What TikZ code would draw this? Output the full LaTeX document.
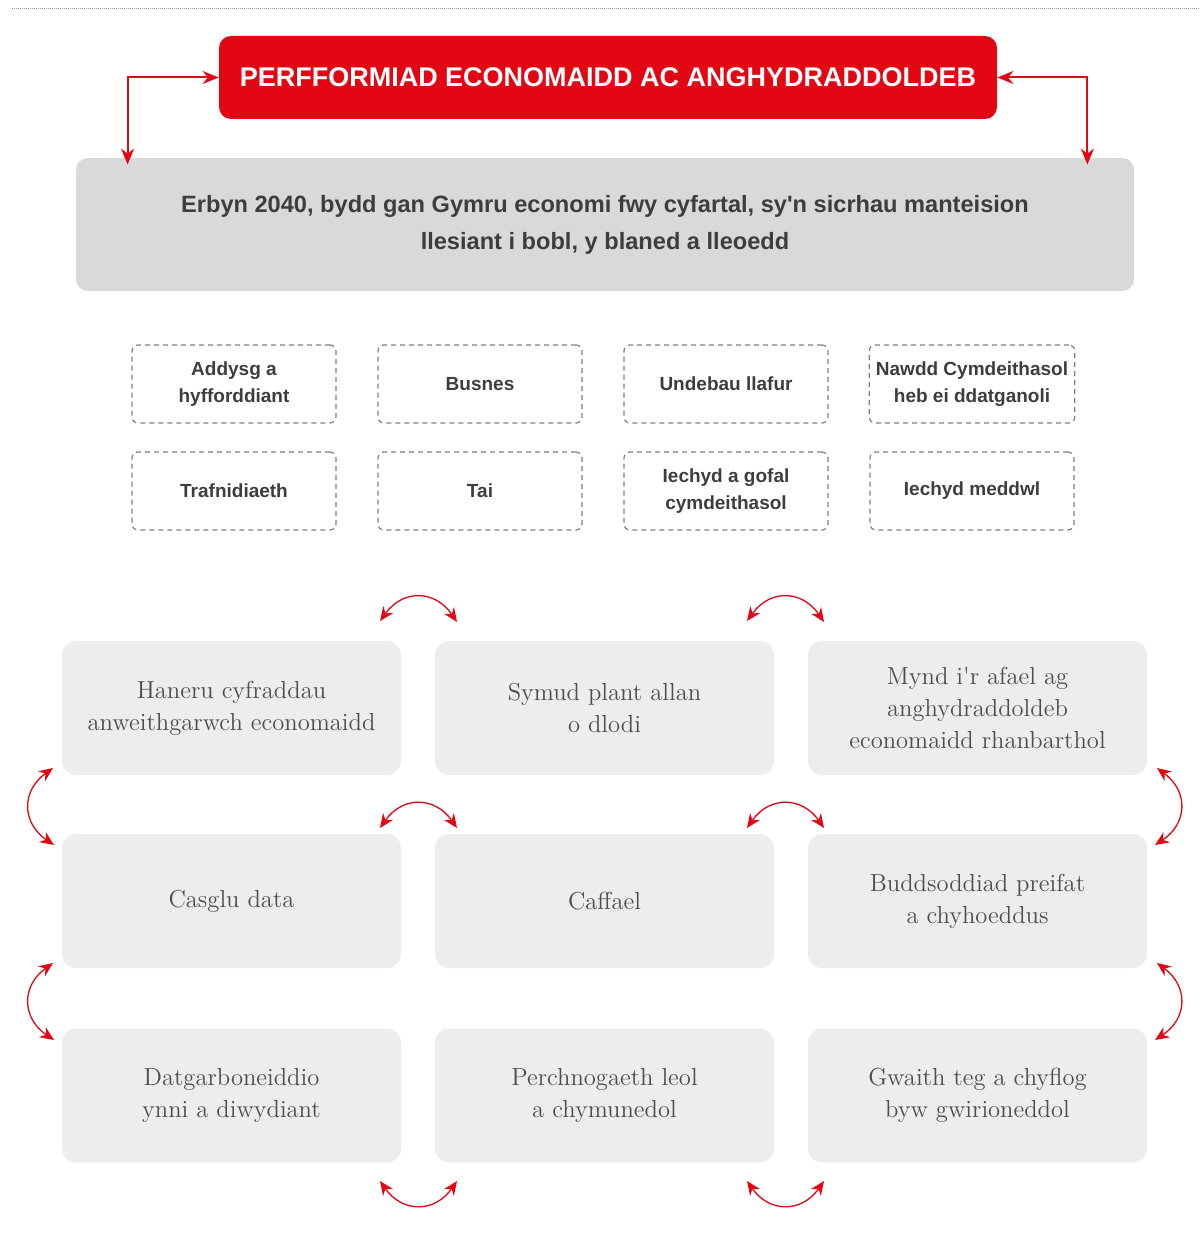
\documentclass[tikz,border=0pt]{standalone}
\usepackage{fontspec}
\setsansfont{Liberation Sans}
\usetikzlibrary{arrows.meta,calc}

\definecolor{wgred}{HTML}{E30613}
\definecolor{wggrey}{HTML}{D9D9D9}
\definecolor{wglight}{HTML}{EDEDED}
\definecolor{wgtext}{HTML}{3D3D3D}
\definecolor{wgserif}{HTML}{4D4D4D}

\begin{document}
\begin{tikzpicture}[x=0.5pt,y=-0.5pt,
titlebox/.style={fill=wgred, rounded corners=6pt, minimum width=389pt, minimum height=41.5pt,
  text=white, font=\sffamily\bfseries\fontsize{13.5}{16}\selectfont},
visionbox/.style={fill=wggrey, rounded corners=6pt, minimum width=529pt, minimum height=66.5pt,
  text=wgtext, align=center, font=\sffamily\bfseries\fontsize{11.8}{18.5}\selectfont},
areabox/.style={draw=gray, dash pattern=on 2.5pt off 2pt, line width=0.6pt, rounded corners=3pt,
  minimum width=102pt, minimum height=39pt, text=wgtext, align=center,
  font=\sffamily\bfseries\fontsize{9.5}{13.5}\selectfont},
goalbox/.style={fill=wglight, rounded corners=7pt, minimum width=169.5pt, minimum height=67pt,
  text=wgserif, align=center, font=\fontsize{12.3}{16}\selectfont},
elbow/.style={wgred, line width=1pt, {Stealth[length=8pt,width=6.5pt]}-{Stealth[length=8pt,width=6.5pt]}},
bothway/.style={wgred, line width=0.65pt, {Stealth[length=7pt,width=6pt]}-{Stealth[length=7pt,width=6pt]}, looseness=1.3},
]
\useasboundingbox (0,0) rectangle (1200,1246);
\draw[gray!80, line width=0.5pt, dash pattern=on 0.5pt off 0.5pt] (12,9) -- (1200,9);

% headline and vision
\node[titlebox] (title) at (608,77.5) {PERFFORMIAD ECONOMAIDD AC ANGHYDRADDOLDEB};
\node[visionbox] (vision) at (605,224.5)
  {Erbyn 2040, bydd gan Gymru economi fwy cyfartal, sy\textquotesingle n sicrhau manteision\\
   llesiant i bobl, y blaned a lleoedd};
\draw[elbow] (title.west) -| ($(vision.north west)+(52,7)$);
\draw[elbow] (title.east) -| ($(vision.north east)+(-47,7)$);

% policy areas
\node[areabox] (addysg) at (234,384) {Addysg a\\hyfforddiant};
\node[areabox] (busnes) at (480,384) {Busnes};
\node[areabox] (undebau) at (726,384) {Undebau llafur};
\node[areabox] (nawdd) at (972,384) {Nawdd Cymdeithasol\\heb ei ddatganoli};
\node[areabox] (trafnidiaeth) at (234,491) {Trafnidiaeth};
\node[areabox] (tai) at (480,491) {Tai};
\node[areabox] (iechyd) at (726,491) {Iechyd a gofal\\cymdeithasol};
\node[areabox] (meddwl) at (972,491) {Iechyd meddwl};

% levers
\node[goalbox] (haneru) at (231.5,708) {Haneru cyfraddau\\anweithgarwch economaidd};
\node[goalbox] (plant) at (604.5,708) {Symud plant allan\\o dlodi};
\node[goalbox] (afael) at (977.5,708) {Mynd i\textquotesingle r afael ag\\anghydraddoldeb\\economaidd rhanbarthol};
\node[goalbox] (data) at (231.5,901) {Casglu data};
\node[goalbox] (caffael) at (604.5,901) {Caffael};
\node[goalbox] (buddsoddiad) at (977.5,901) {Buddsoddiad preifat\\a chyhoeddus};
\node[goalbox] (datgarb) at (231.5,1095.5) {Datgarboneiddio\\ynni a diwydiant};
\node[goalbox] (perchnogaeth) at (604.5,1095.5) {Perchnogaeth leol\\a chymunedol};
\node[goalbox] (gwaith) at (977.5,1095.5) {Gwaith teg a chyflog\\byw gwirioneddol};

% two-way arrows in the gaps
\foreach \gx/\g in {380/a,747/b}{
  \coordinate (\g top l) at (\gx,621);
  \coordinate (\g top r) at (\gx+77,622);
  \coordinate (\g mid l) at (\gx,828);
  \coordinate (\g mid r) at (\gx+77,828);
  \coordinate (\g bot l) at (\gx,1181);
  \coordinate (\g bot r) at (\gx+77,1181);
  \draw[bothway] (\g top l) to[bend left=55] (\g top r);
  \draw[bothway] (\g mid l) to[bend left=55] (\g mid r);
  \draw[bothway] (\g bot l) to[bend right=55] (\g bot r);
}
\foreach \gy/\g in {768/c,963/d}{
  \coordinate (\g west t) at (53,\gy);
  \coordinate (\g west b) at (54,\gy+77);
  \coordinate (\g east t) at (1157,\gy);
  \coordinate (\g east b) at (1155,\gy+77);
  \draw[bothway] (\g west t) to[bend right=55] (\g west b);
  \draw[bothway] (\g east t) to[bend left=55] (\g east b);
}
\end{tikzpicture}
\end{document}
